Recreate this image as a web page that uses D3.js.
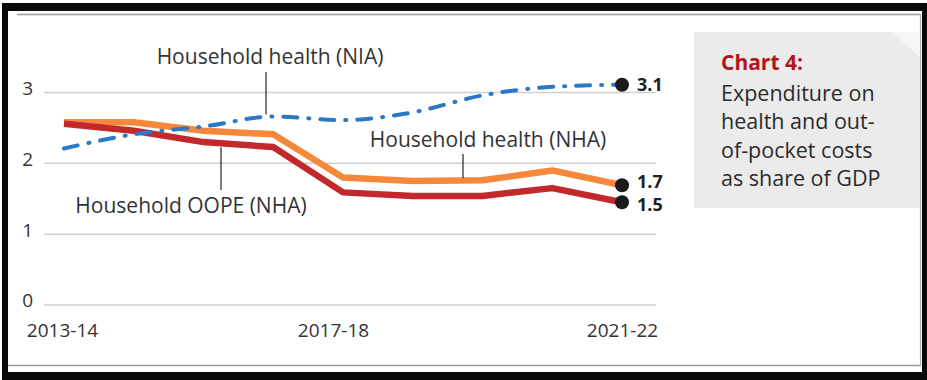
<!DOCTYPE html>
<html>
<head>
<meta charset="utf-8">
<script src="https://cdn.jsdelivr.net/npm/d3@7/dist/d3.min.js"></script>
<style>
html,body{margin:0;padding:0;background:#fff;}
svg{display:block;}
text{font-family:"Open Sans","Noto Sans",sans-serif;}
</style>
</head>
<body>
<svg id="chart" width="927" height="380"></svg>
<script>
// ---- data ----
const years = ["2013-14","2014-15","2015-16","2016-17","2017-18","2018-19","2019-20","2020-21","2021-22"];
const householdNHA = [2.58, 2.58, 2.46, 2.41, 1.80, 1.75, 1.76, 1.90, 1.69];
const oopeNHA      = [2.56, 2.46, 2.30, 2.23, 1.59, 1.54, 1.54, 1.65, 1.45];
const householdNIA = [2.21, 2.41, 2.52, 2.66, 2.61, 2.72, 2.96, 3.08, 3.11];
const endLabels = ["3.1", "1.7", "1.5"];
const xTickLabels = ["2013-14", "2017-18", "2021-22"];
const yTicks = [0, 1, 2, 3];
const titleBold = "Chart 4:";
const titleLines = ["Expenditure on", "health and out-", "of-pocket costs", "as share of GDP"];

const svg = d3.select("#chart");

// ---- frame ----
svg.append("rect").attr("x",0).attr("y",0).attr("width",927).attr("height",380).attr("fill","#fff");
svg.append("rect").attr("x",2).attr("y",3).attr("width",925).attr("height",377).attr("fill","#0a0a0a");
svg.append("rect").attr("x",8).attr("y",11).attr("width",914).attr("height",361).attr("fill","#fff");
svg.append("line").attr("x1",17).attr("x2",921).attr("y1",14.5).attr("y2",14.5).attr("stroke","#9a9a9a").attr("stroke-width",1.5);
svg.append("line").attr("x1",8).attr("x2",921).attr("y1",365.5).attr("y2",365.5).attr("stroke","#9a9a9a").attr("stroke-width",1.5);
svg.append("line").attr("x1",920.5).attr("x2",920.5).attr("y1",14).attr("y2",366).attr("stroke","#b0b0b0").attr("stroke-width",1.2);

// ---- side panel ----
const panel = svg.append("g");
panel.append("path").attr("d","M694,32 L892,32 L920,57 L920,208 L694,208 Z").attr("fill","#ebebeb");
panel.append("path").attr("d","M892,32 L920,32 L920,57 Z").attr("fill","#f6f6f6");
panel.append("text").attr("x",721).attr("y",70).attr("font-size",21).attr("font-weight",700)
  .attr("fill","#b3141c").text(titleBold);
panel.selectAll("text.tl").data(titleLines).join("text").attr("class","tl")
  .attr("x",721).attr("y",(d,i)=>101+i*28.3).attr("font-size",21.5).attr("fill","#2b2b2b").text(d=>d);

// ---- scales ----
const x = d3.scalePoint().domain(years).range([64, 622]);
const y = d3.scaleLinear().domain([0, 3]).range([305, 92.5]);

// gridlines
svg.append("g").selectAll("line").data(yTicks).join("line")
  .attr("x1",44).attr("x2",656).attr("y1",d=>y(d)).attr("y2",d=>y(d))
  .attr("stroke","#cfcfcf").attr("stroke-width",1.5);

// y axis labels
const yAxis = svg.append("g").attr("transform","translate(33,0)")
  .call(d3.axisLeft(y).tickValues(yTicks).tickSize(0).tickPadding(0).tickFormat(d3.format("d")));
yAxis.select(".domain").remove();
yAxis.selectAll("text").attr("font-size",19).attr("fill","#333").attr("font-family","'Open Sans',sans-serif")
  .attr("dy","0.1em");

// x axis labels
const xAxis = svg.append("g").attr("transform","translate(0,320)")
  .call(d3.axisBottom(x).tickValues(xTickLabels).tickSize(0).tickPadding(0));
xAxis.select(".domain").remove();
xAxis.selectAll("text").attr("font-size",19).attr("fill","#333").attr("font-family","'Open Sans',sans-serif")
  .attr("dy","0.9em").attr("dx",d=>d==="2017-18"?-10:(d==="2013-14"?-2:0));

// ---- lines ----
const lineLin = d3.line().x((d,i)=>x(years[i])).y(d=>y(d));
const lineSmooth = d3.line().x((d,i)=>x(years[i])).y(d=>y(d)).curve(d3.curveMonotoneX);

svg.append("path").datum(householdNHA).attr("d",lineLin).attr("fill","none")
  .attr("stroke","#f5883a").attr("stroke-width",6.5).attr("stroke-linejoin","round");
svg.append("path").datum(oopeNHA).attr("d",lineLin).attr("fill","none")
  .attr("stroke","#c2282c").attr("stroke-width",6.5).attr("stroke-linejoin","round");
svg.append("path").datum(householdNIA).attr("d",lineSmooth).attr("fill","none")
  .attr("stroke","#2b78c3").attr("stroke-width",4).attr("stroke-linecap","round")
  .attr("stroke-dasharray","14,11,1,11");

// ---- end dots and labels ----
const ends = [
  {v: householdNIA[householdNIA.length-1], label: endLabels[0], dy: 6.5},
  {v: householdNHA[householdNHA.length-1], label: endLabels[1], dy: 3},
  {v: oopeNHA[oopeNHA.length-1], label: endLabels[2], dy: 9}
];
const lastX = x(years[years.length-1]);
svg.append("g").selectAll("circle").data(ends).join("circle")
  .attr("cx",lastX).attr("cy",d=>y(d.v)).attr("r",7).attr("fill","#1b1b1b");
svg.append("g").selectAll("text").data(ends).join("text")
  .attr("x",lastX+15).attr("y",d=>y(d.v)+d.dy).attr("font-size",18).attr("font-weight",700)
  .attr("fill","#222").text(d=>d.label);

// ---- annotations ----
const ann = svg.append("g");
function annotate(label, tx, ty, lx, ly1, ly2){
  ann.append("text").attr("x",tx).attr("y",ty).attr("text-anchor","middle")
    .attr("font-size",21).attr("fill","#333").text(label);
  ann.append("line").attr("x1",lx).attr("x2",lx).attr("y1",ly1).attr("y2",ly2)
    .attr("stroke","#333").attr("stroke-width",1.3);
}
annotate("Household health (NIA)", 270, 64, 266, 72, y(2.66)-2);
annotate("Household OOPE (NHA)", 191, 213, 221, y(2.27)+3, 190);
annotate("Household health (NHA)", 488, 147, 463, 154, y(1.76)-2);
</script>
</body>
</html>
